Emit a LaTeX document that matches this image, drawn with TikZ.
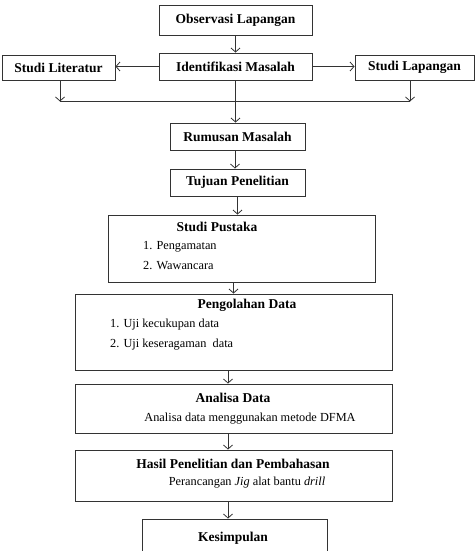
\documentclass[tikz,border=0pt]{standalone}
\usepackage{fontspec}
\setmainfont{Liberation Serif}
\usetikzlibrary{arrows.meta}
\usetikzlibrary{calc}

\newcommand\ttlfont{\fontsize{13.5}{15}\selectfont\bfseries}
\newcommand\itemfont{\fontsize{12.3}{14}\selectfont}

\tikzset{
	box/.style={draw=black!80, line width=0.9pt, inner sep=0pt, font=\ttlfont},
	ttl/.style={inner sep=0pt, font=\ttlfont},
	item/.style={inner sep=0pt, anchor=west, font=\itemfont},
	arr/.style={draw=black!80, line width=0.8pt, -{Straight Barb[length=4pt,width=9pt]}},
	ln/.style={draw=black!80, line width=0.8pt}
}

\begin{document}
\begin{tikzpicture}[x=1pt,y=-1pt]
\path[use as bounding box, clip] (0,0) rectangle (475,551);
% top row
\node[box, minimum width=153pt, minimum height=30pt] (obs) at (235.5,20) {Observasi Lapangan};
\node[box, minimum width=153pt, minimum height=27pt] (ident) at (235.5,66.5) {Identifikasi Masalah};
\node[box, minimum width=113pt, minimum height=25pt] (lit) at (58.5,67.5) {Studi Literatur};
\node[box, minimum width=119pt, minimum height=25pt] (lap) at (414.5,67.5) {Studi Lapangan};
\coordinate (jl) at (60,101.5);
\coordinate (jr) at (410,101.5);
% main column
\node[box, minimum width=135pt, minimum height=27pt] (rum) at (237.5,136.5) {Rumusan Masalah};
\node[box, minimum width=135pt, minimum height=27pt] (tuj) at (237.5,182.5) {Tujuan Penelitian};
\node[box, minimum width=267pt, minimum height=67pt] (pus) at (241.5,248.5) {};
\node[box, minimum width=317pt, minimum height=76pt] (olah) at (233.5,332) {};
\node[box, minimum width=317pt, minimum height=49pt] (anal) at (233.5,408.5) {};
\node[box, minimum width=317pt, minimum height=51pt] (hasil) at (233.5,475.5) {};
\node[box, minimum width=185pt, minimum height=51pt] (kes) at (234.5,544.5) {};
% texts
\node[ttl] (pusT) at (217,227) {Studi Pustaka};
\node[item] (pus1) at (143,247) {1. Pengamatan};
\node[item] (pus2) at (143,266) {2. Wawancara};
\node[ttl] (olahT) at (247,305) {Pengolahan Data};
\node[item] (olah1) at (110,325) {1. Uji kecukupan data};
\node[item] (olah2) at (110,345) {2. Uji keseragaman\ \ data};
\node[ttl] (analT) at (233,398) {Analisa Data};
\node[item, anchor=center] (analS) at (250,419) {Analisa data menggunakan metode DFMA};
\node[ttl] (hasilT) at (233,464) {Hasil Penelitian dan Pembahasan};
\node[item, anchor=center] (hasilS) at (247,483) {Perancangan \textit{Jig} alat bantu \textit{drill}};
\node[ttl] (kesT) at (233,538) {Kesimpulan};

\path
(obs) edge[arr] (ident)
(ident.west) edge[arr] (ident.west -| lit.east)
(ident.east) edge[arr] (ident.east -| lap.west)
(lit.south -| jl) edge[arr] (jl)
(lap.south -| jr) edge[arr] (jr)
(ident.south) edge[arr] (ident.south |- rum.north)
([xshift=-2.5pt]rum.south) edge[arr] ([xshift=-2.5pt]tuj.north)
(tuj.south) edge[arr] (tuj.south |- pus.north)
(pus.south -| olah.north) edge[arr] (olah.north)
([xshift=-5.5pt]olah.south) edge[arr] ([xshift=-5.5pt]anal.north)
([xshift=-5.5pt]anal.south) edge[arr] ([xshift=-5.5pt]hasil.north)
([xshift=-5.5pt]hasil.south) edge[arr] ([xshift=-6.5pt]kes.north)
;
\path[ln] (jl) -- (jr);
\end{tikzpicture}
\end{document}
